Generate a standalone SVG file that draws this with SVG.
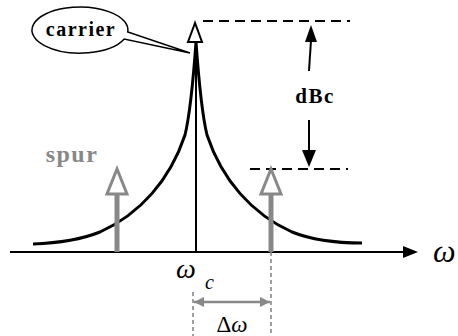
<svg xmlns="http://www.w3.org/2000/svg" width="458" height="336" viewBox="0 0 458 336">
<style>
.lbl{font-family:'Liberation Serif','DejaVu Serif','Times New Roman',serif;font-weight:bold}
.it{font-family:'Liberation Serif','DejaVu Serif','Times New Roman',serif;font-style:italic}
.dash{stroke:#000;stroke-width:2;stroke-dasharray:10,6;fill:none}
.gdash{stroke:#888;stroke-width:1.6;stroke-dasharray:4,3;fill:none}
.spur{stroke:#888;stroke-width:5;fill:none}
.tri{stroke:#888;stroke-width:3;fill:#fff;stroke-linejoin:miter}
</style>
<defs>
<marker id="ah" viewBox="0 0 10 10" refX="10" refY="5" markerWidth="10" markerHeight="10" markerUnits="userSpaceOnUse" orient="auto-start-reverse">
<path d="M0,0 L10,5 L0,10 Z" fill="#888"/>
</marker>
</defs>
<rect width="458" height="336" fill="#fff"/>
<g id="connectors">
<line x1="10" y1="252" x2="405" y2="252" stroke="#000" stroke-width="2"/>
<polygon points="418,252 403,246 403,258" fill="#000"/>
<path d="M33,244 C60,243 80,240 100,232 C140,214 170,180 185,135 C191,110 194,70 196,42 C198,70 201,110 207,135 C222,180 252,214 292,232 C312,240 332,243 362,243" fill="none" stroke="#000" stroke-width="3"/>
<line x1="203" y1="21" x2="350" y2="21" class="dash"/>
<line x1="250" y1="169" x2="348" y2="169" class="dash"/>
<line x1="309" y1="71" x2="311" y2="40" stroke="#000" stroke-width="2"/>
<polygon points="311,25 305,42 317,42" fill="#000"/>
<line x1="309" y1="120" x2="309" y2="152" stroke="#000" stroke-width="2"/>
<polygon points="309,167 302,150 316,150" fill="#000"/>
<line x1="193" y1="292" x2="193" y2="336" class="gdash"/>
<line x1="271" y1="252" x2="271" y2="336" class="gdash"/>
<line x1="194" y1="302" x2="270" y2="302" stroke="#888" stroke-width="2.5" marker-start="url(#ah)" marker-end="url(#ah)"/>
</g>
<g id="carrier">
<line x1="196" y1="252" x2="196" y2="42" stroke="#000" stroke-width="2"/>
<polygon points="195,23 188,42 202,42" fill="#fff" stroke="#000" stroke-width="2"/>
</g>
<g id="carrier-label">
<path d="M127.8,32 A48,23 0 1,0 124.2,39 L190,53 Z" fill="#fff" stroke="#000" stroke-width="1.5"/>
<text x="81" y="36" class="lbl" font-size="20" text-anchor="middle" letter-spacing="1.5">carrier</text>
</g>
<g id="spur-left">
<line x1="117" y1="194" x2="117" y2="252" class="spur"/>
<polygon points="117,169 107,194 127,194" class="tri"/>
<text x="72" y="162" class="lbl" font-size="24" fill="#888" text-anchor="middle" letter-spacing="1.5">spur</text>
</g>
<g id="spur-right">
<line x1="271" y1="194" x2="271" y2="252" class="spur"/>
<polygon points="271,169 261,194 281,194" class="tri"/>
</g>
<g id="dbc">
<text x="315" y="103" class="lbl" font-size="21" text-anchor="middle" letter-spacing="1.5">dBc</text>
</g>
<g id="axis-label">
<text x="433" y="262" class="it" font-size="32">ω</text>
</g>
<g id="wc">
<text x="176" y="278" class="it" font-size="28">ω</text>
<text x="205" y="289" class="it" font-size="20">c</text>
</g>
<g id="dw">
<text x="232" y="332" class="it" font-size="23" text-anchor="middle"><tspan font-style="normal">Δ</tspan>ω</text>
</g>
</svg>
